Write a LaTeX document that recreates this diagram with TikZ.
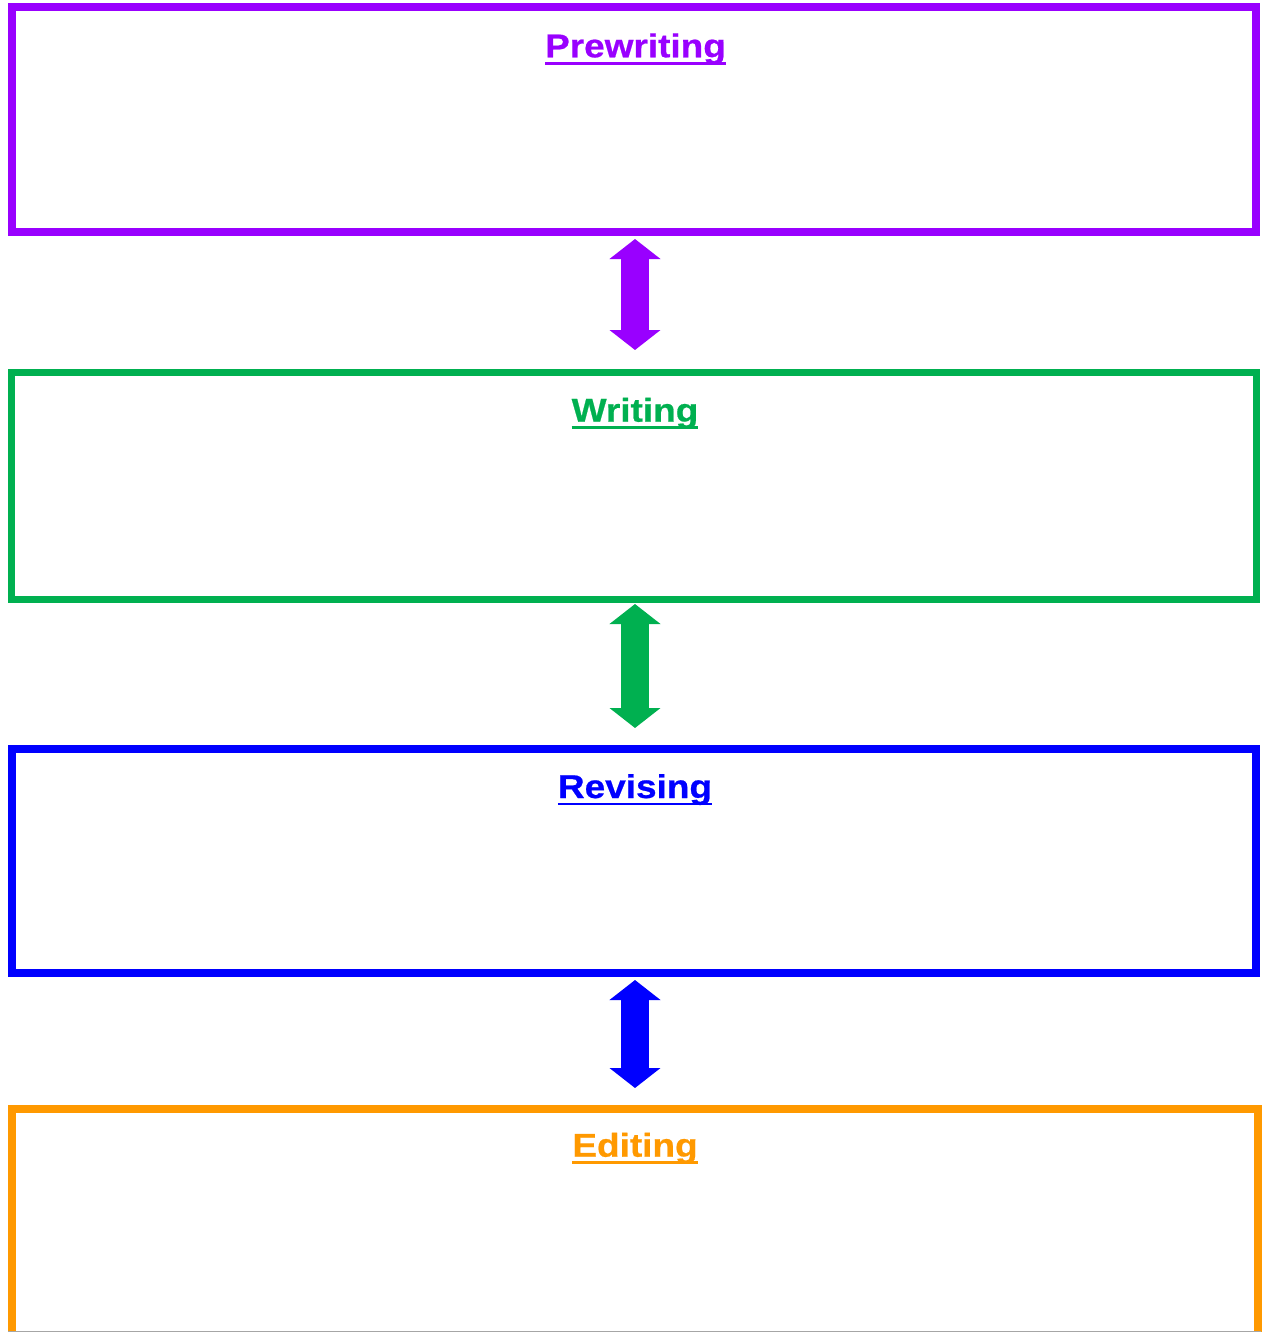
\documentclass[tikz,border=0pt]{standalone}
\usepackage{fontspec}
\setmainfont{Liberation Sans}
\newfontfamily\labfont[FakeStretch=1.12,FakeBold=0.6]{Liberation Sans Bold}
\usetikzlibrary{arrows.meta,calc}
\definecolor{cpurple}{HTML}{9900FF}
\definecolor{cgreen}{HTML}{00B050}
\definecolor{cblue}{HTML}{0000FF}
\definecolor{corange}{HTML}{FF9900}
\tikzset{
  box/.style={draw=#1, rectangle, inner sep=0pt, outer sep=0pt, fill=white},
  lbl/.style={text=#1, anchor=base, inner sep=0pt, outer sep=0pt, font=\labfont\fontsize{33}{38}\selectfont},
  uline/.style={draw=#1, line width=2.5pt},
  darrow/.style={draw=#1, line width=28pt, line cap=butt,
    {Triangle[width=50pt,length=20pt]}-{Triangle[width=50pt,length=20pt]}},
}
\begin{document}
\begin{tikzpicture}[x=1pt,y=-1pt]
\useasboundingbox (0,0) rectangle (1261,1332);
% boxes
\node[box=cpurple, line width=8pt, minimum width=1244pt, minimum height=225pt] (pw) at (634,119.5) {};
\node[box=cgreen, line width=7pt, minimum width=1245pt, minimum height=227pt] (wr) at (634,485.5) {};
\node[box=cblue, line width=8pt, minimum width=1244pt, minimum height=224pt] (rv) at (634,861) {};
\node[box=corange, line width=8pt, minimum width=1246pt, minimum height=260pt] (ed) at (635,1239) {};
\draw[gray!70, line width=1pt] (8,1331) -- (1261,1331);
% titles
\node[lbl=cpurple] (pwt) at (635.5,57.3) {Prewriting};
\node[lbl=cgreen] (wrt) at (635,421.7) {Writing};
\node[lbl=cblue] (rvt) at (635,798) {Revising};
\node[lbl=corange] (edt) at (635,1156.7) {Editing};
\foreach \n/\c in {pwt/cpurple,wrt/cgreen,rvt/cblue,edt/corange}{
  \draw[uline=\c] ($(\n.base west)+(0,6)$) -- ($(\n.base east)+(0,6)$);
}
% arrows
\coordinate (a1t) at (635,239);
\coordinate (a1b) at (635,350);
\coordinate (a2t) at (635,604);
\coordinate (a2b) at (635,728);
\coordinate (a3t) at (635,980);
\coordinate (a3b) at (635,1088);
\draw[darrow=cpurple] (a1t) -- (a1b);
\draw[darrow=cgreen] (a2t) -- (a2b);
\draw[darrow=cblue] (a3t) -- (a3b);
\end{tikzpicture}
\end{document}
